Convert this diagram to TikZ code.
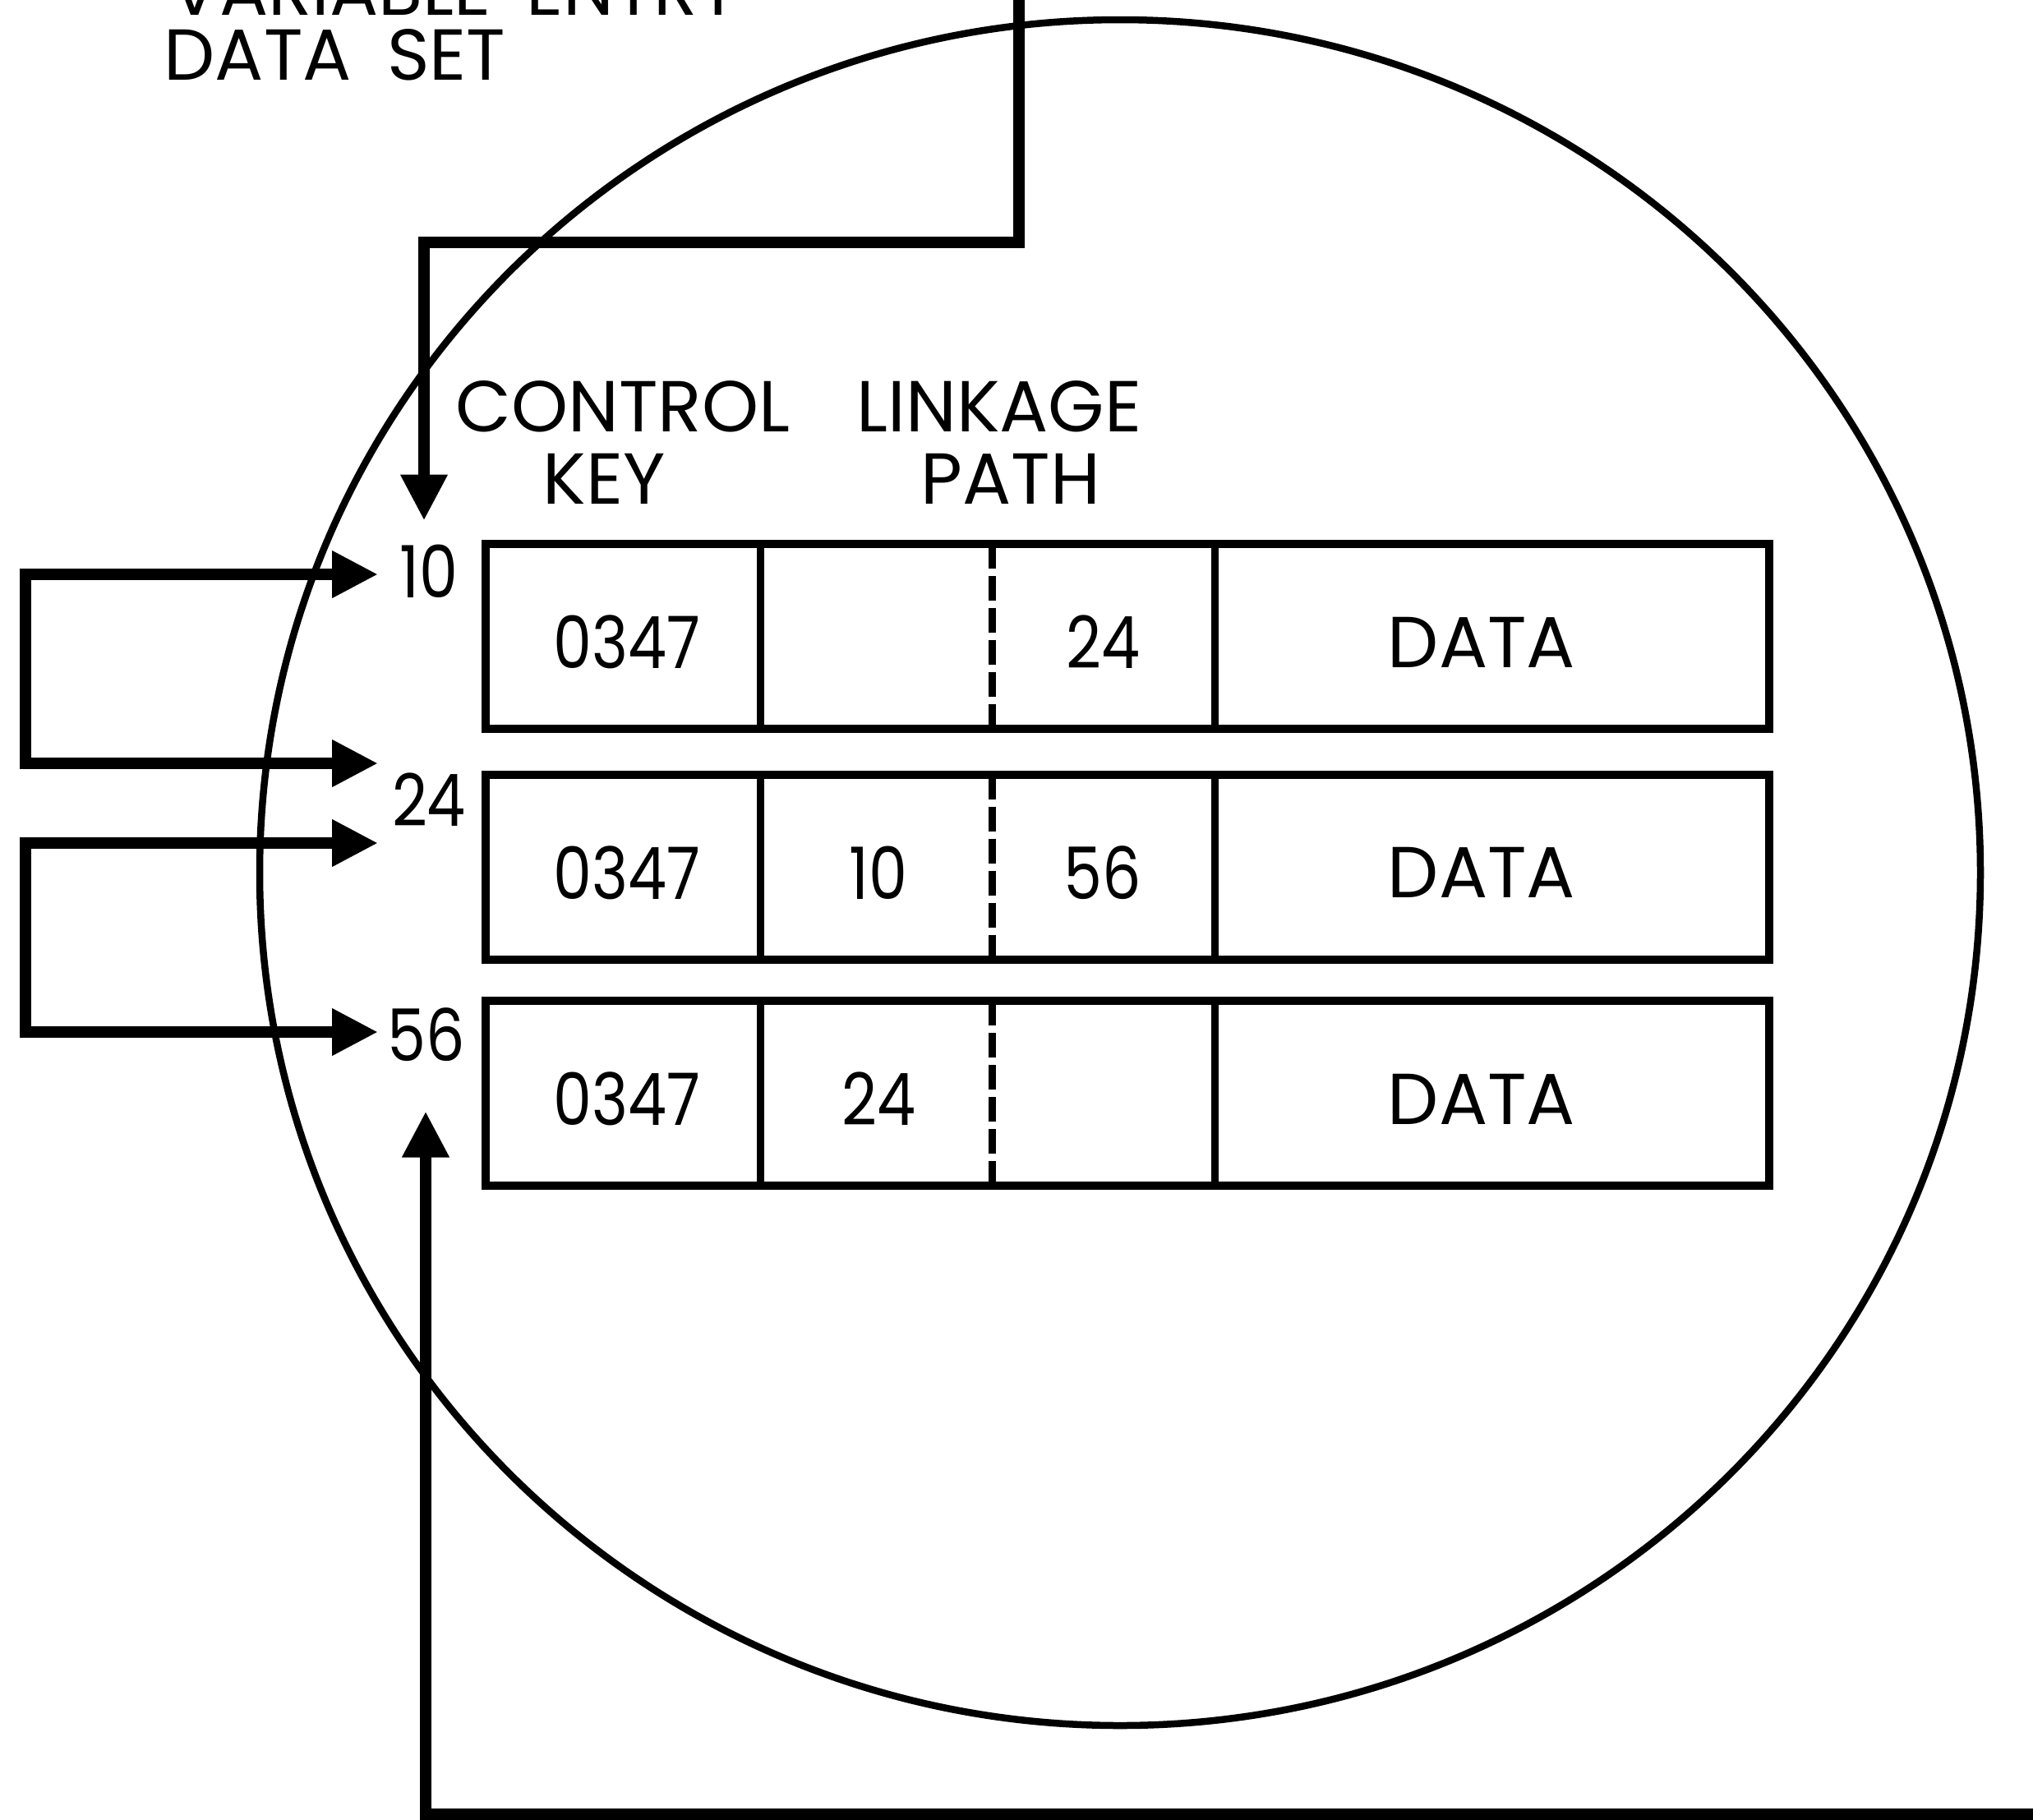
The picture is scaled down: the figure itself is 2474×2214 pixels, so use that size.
\documentclass[tikz,border=0pt]{standalone}
\usepackage{fontspec}
\setmainfont{Poppins}
\newfontfamily\digitfont[FakeStretch=0.85]{Poppins}
\usetikzlibrary{arrows.meta,calc}

\begin{document}
\begin{tikzpicture}[x=0.1mm,y=-0.1mm,
  lbl/.style={font=\fontsize{25}{30}\selectfont, inner sep=0pt},
  num/.style={font=\fontsize{25}{30}\digitfont, inner sep=0pt},
  ring/.style={line width=0.85mm},
  rowbox/.style={draw, line width=1.0mm, inner sep=0pt, outer sep=0pt,
    minimum width=156.2mm, minimum height=22.5mm},
  rule/.style={line width=0.9mm},
  dashrule/.style={line width=0.9mm, dash pattern=on 3mm off 0.9mm},
  tip/.tip={Triangle[length=5.6mm,width=5.4mm]},
  link/.style={line width=1.35mm, line join=miter, -tip},
  dlink/.style={line width=1.35mm, line join=miter, tip-tip}]

\useasboundingbox (0,0) rectangle (2474,2214);
\fill[white] (0,0) rectangle (2474,2214);

% title, partly above the page edge
\node[lbl, anchor=base west] (title1) at (207,18) {VARIABLE\hspace{2mm} ENTRY};
\node[lbl, anchor=base west] (title2) at (199,97) {DATA\hspace{2mm} SET};

% the disk
\draw[ring] (1363,1062) ellipse [x radius=1047, y radius=1038];

% column headings
\node[lbl, anchor=base] (hcontrol) at (758,525) {CONTROL};
\node[lbl, anchor=base] (hlinkage) at (1216,525) {LINKAGE};
\node[lbl, anchor=base] (hkey) at (735,613) {KEY};
\node[lbl, anchor=base] (hpath) at (1230,613) {PATH};

% records: key, backward link, forward link, data
\foreach \r/\cy/\back/\fwd in {1/774.5//24, 2/1055/10/56, 3/1330.5/24/}{
  \node[rowbox] (row\r) at (1372,\cy) {};
  \draw[rule] ($(row\r.north west)+(334,0)$) -- ($(row\r.south west)+(334,0)$);
  \draw[dashrule] ($(row\r.north west)+(616,0)$) -- ($(row\r.south west)+(616,0)$);
  \draw[rule] ($(row\r.north west)+(887,0)$) -- ($(row\r.south west)+(887,0)$);
  \node[num] (key\r) at ($(row\r.west)+(172,7)$) {0347};
  \node[num] (back\r) at ($(row\r.west)+(478,7)$) {\back};
  \node[num] (fwd\r) at ($(row\r.west)+(751,7)$) {\fwd};
  \node[lbl] (data\r) at ($(row\r.west)+(1212,7)$) {DATA};
}

% record addresses
\node[num] (n10) at (522,695.5) {10};
\node[num] (n24) at (522,973.5) {24};
\node[num] (n56) at (519,1259.5) {56};

% entry into the chain
\coordinate (src) at (1240,-20);
\draw[link] (src) -- ++(0,315) -| ($(n10)+(-6,-62)$);

% chain links between records
\draw[dlink] ($(n10)+(-62,3.5)$) -- ++(-429,0) |- ($(n24)+(-62,-44.5)$);
\draw[dlink] ($(n24)+(-62,52.5)$) -- ++(-429,0) |- ($(n56)+(-59,-3.5)$);

% end of the chain
\coordinate (sink) at (2490,2208);
\draw[link] (sink) -| ($(n56)+(-1,93)$);
\end{tikzpicture}
\end{document}
